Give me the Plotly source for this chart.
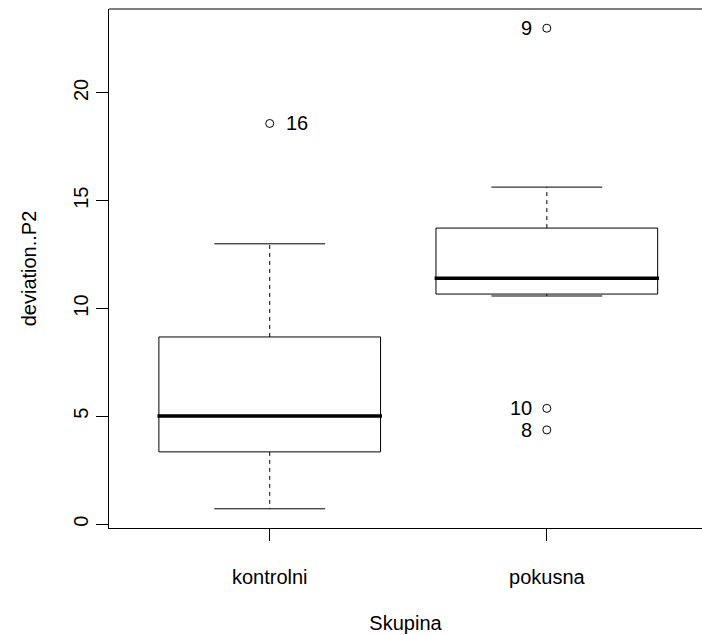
import plotly.graph_objects as go

# ---- data ----
groups = ["kontrolni", "pokusna"]
q1 = [3.35, 10.67]
median = [5.02, 11.40]
q3 = [8.68, 13.73]
lower_whisker = [0.71, 10.58]
upper_whisker = [13.00, 15.63]

outlier_group = ["kontrolni", "pokusna", "pokusna", "pokusna"]
outlier_values = [18.58, 23.00, 5.37, 4.37]
outlier_labels = ["16", "9", "10", "8"]
outlier_label_side = ["right", "left", "left", "left"]

y_ticks = [0, 5, 10, 15, 20]

# ---- styling ----
FONT = "Liberation Sans, Arial, Helvetica, sans-serif"
BOX_HALF = 0.4
CAP_HALF = 0.2
LINE = "#000000"

fig = go.Figure()
pos = {g: i + 1 for i, g in enumerate(groups)}

for g, a, m, b, lo, hi in zip(groups, q1, median, q3, lower_whisker, upper_whisker):
    x0 = pos[g]
    # dashed whiskers
    fig.add_trace(go.Scatter(x=[x0, x0, None, x0, x0], y=[b, hi, None, a, lo],
                             mode="lines", line=dict(color=LINE, width=1, dash="4px,4px"),
                             hoverinfo="skip", showlegend=False))
    # caps
    fig.add_trace(go.Scatter(x=[x0 - CAP_HALF, x0 + CAP_HALF, None, x0 - CAP_HALF, x0 + CAP_HALF],
                             y=[hi, hi, None, lo, lo],
                             mode="lines", line=dict(color=LINE, width=1),
                             hoverinfo="skip", showlegend=False))
    # box
    fig.add_trace(go.Scatter(x=[x0 - BOX_HALF, x0 + BOX_HALF, x0 + BOX_HALF, x0 - BOX_HALF, x0 - BOX_HALF],
                             y=[a, a, b, b, a], mode="lines",
                             line=dict(color=LINE, width=1), fill="toself", fillcolor="white",
                             hoverinfo="skip", showlegend=False))
    # median
    fig.add_trace(go.Scatter(x=[x0 - BOX_HALF - 0.005, x0 + BOX_HALF + 0.005], y=[m, m], mode="lines",
                             line=dict(color=LINE, width=3.5),
                             hoverinfo="skip", showlegend=False))

# outliers
fig.add_trace(go.Scatter(x=[pos[g] for g in outlier_group], y=outlier_values, mode="markers",
                         marker=dict(symbol="circle-open", size=8, color=LINE, line=dict(width=1)),
                         hoverinfo="skip", showlegend=False))

for g, v, lab, side in zip(outlier_group, outlier_values, outlier_labels, outlier_label_side):
    fig.add_annotation(x=pos[g], y=v, text=lab, showarrow=False,
                       xanchor="left" if side == "right" else "right",
                       xshift=14 if side == "right" else -13, yshift=0,
                       font=dict(family=FONT, size=20, color="black"))

# top frame line (right side of frame lies outside the picture)
fig.add_shape(type="line", xref="paper", yref="paper", x0=0, x1=1, y0=1, y1=1,
              line=dict(color=LINE, width=1))

fig.update_layout(
    width=702, height=635,
    margin=dict(l=109, r=0, t=9, b=107),
    paper_bgcolor="white", plot_bgcolor="white",
    font=dict(family=FONT, size=20, color="black"),
    showlegend=False,
    xaxis=dict(range=[0.42, 2.56], tickmode="array", tickvals=[pos[g] for g in groups],
               ticktext=groups, showgrid=False, zeroline=False, showline=True,
               linecolor=LINE, linewidth=1, ticks="outside", ticklen=12, tickcolor=LINE,
               ticklabelstandoff=19,
               tickfont=dict(family=FONT, size=20, color="black"),
               title=dict(text="Skupina", font=dict(family=FONT, size=20, color="black"), standoff=28)),
    yaxis=dict(range=[-0.18, 23.89], tickmode="array", tickvals=y_ticks,
               ticktext=[str(t) for t in y_ticks], tickangle=-90,
               showgrid=False, zeroline=False, showline=True,
               linecolor=LINE, linewidth=1, ticks="outside", ticklen=12, tickcolor=LINE,
               tickfont=dict(family=FONT, size=20, color="black"),
               title=dict(text="deviation..P2", font=dict(family=FONT, size=20, color="black"), standoff=28)),
)

fig.write_html("out.html")
